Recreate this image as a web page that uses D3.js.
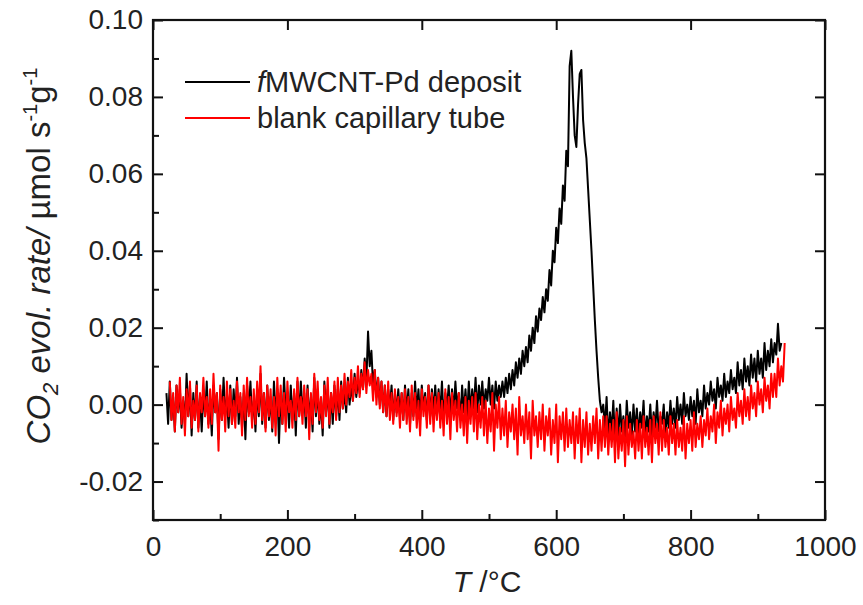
<!DOCTYPE html>
<html>
<head>
<meta charset="utf-8">
<script src="https://cdn.jsdelivr.net/npm/d3@7/dist/d3.min.js"></script>
<style>
  body { margin: 0; background: #fff; }
  svg text { font-family: "Liberation Sans", Arial, sans-serif; fill: #222; }
</style>
</head>
<body>
<div id="chart"></div>
<script>
// Temperature grid of the two traces (°C): first point and spacing
var depositStartT = 20;
var blankStartT = 25;
var stepT = 2.5;

// CO2 evolution rate, in 10^-3 µmol s^-1 g^-1
// fMWCNT-Pd deposit, 20..935 °C
var depositRate = [
  3, -5, 6, -4, 2, -7, 5, -2, 4, -6, 1, -5, 8, -3, 5, -8, 3, -4, 6, -6,
  2, -7, 4, -3, 6, -5, 1, -8, 5, -2, 3, -9, 4, -4, 7, -3, 2, -6, 5, -5,
  4, -3, 7, -5, 2, -6, 3, -9, 5, -2, 6, -4, 1, -7, 4, -3, 8, -5, 3, -6,
  5, -4, 2, -7, 6, -3, 4, -10, 3, -5, 7, -2, 2, -6, 5, -4, 3, -8, 6, -3,
  6, -2, 3, -6, 5, -4, 2, -7, 7, -3, 4, -5, 1, -8, 6, -2, 4, -6, 3, -5,
  5, -3, 4, -4, 6, -1, 3, -2, 7, 0, 5, 1, 8, 2, 6, 3, 9, 4, 12, 6,
  19, 10, 14, 5, 9, 2, 7, 0, 6, -2, 5, -3, 4, -1, 5, -4, 3, -2, 4, -3,
  3, -4, 5, -2, 4, -5, 3, -3, 6, -2, 4, -4, 5, -1, 3, -4, 5, -3, 4, -2,
  5, -3, 4, -2, 6, -4, 3, -1, 5, -3, 4, -2, 6, -1, 3, -4, 5, -2, 4, -3,
  6, -2, 4, -1, 7, -2, 5, 0, 6, -1, 4, 1, 7, 0, 5, -1, 6, 1, 5, 2,
  6, 2, 7, 3, 8, 4, 9, 5, 11, 7, 12, 8, 14, 10, 15, 11, 18, 14, 20, 16,
  23, 19, 25, 22, 28, 24, 30, 27, 35, 31, 40, 37, 46, 42, 51, 47, 57, 53, 66, 62,
  88, 92, 80, 70, 67, 78, 86, 87, 74, 68, 64, 56, 48, 40, 31, 22, 14, 7, 1, -2,
  0, -6, 2, -9, -2, -7, 1, -10, -1, -8, 0, -7, -3, -9, 1, -6, -2, -8, 0, -7,
  -1, -8, -2, -6, 1, -9, -3, -7, 0, -8, -2, -6, 1, -7, -3, -5, 0, -8, -2, -6,
  1, -5, -1, -6, 2, -4, 0, -5, 3, -3, 0, -4, 2, -3, 1, -5, 4, -2, 1, -3,
  5, -1, 3, 0, 6, 1, 4, -1, 7, 2, 5, 1, 8, 2, 6, 3, 9, 4, 7, 3,
  11, 5, 9, 4, 12, 6, 10, 5, 13, 7, 12, 6, 14, 8, 12, 7, 16, 9, 14, 10,
  17, 11, 16, 13, 21, 14, 16
];

// blank capillary tube, 25..940 °C
var blankRate = [
  6, -4, 3, -7, 5, -2, 7, -5, 2, -8, 4, -3, 6, -6, 1, -4, 5, -7, 3, -2,
  7, -3, 2, -6, 4, -5, 8, -2, 3, -12, 5, -4, 2, -7, 6, -3, 4, -5, 1, -6,
  6, -2, 3, -8, 5, -4, 7, -3, 2, -6, 4, -5, 6, -2, 10, -4, 3, -7, 5, -3,
  4, -6, 2, -8, 7, -3, 5, -5, 3, -7, 6, -2, 1, -6, 4, -4, 7, -3, 2, -5,
  5, -3, 4, -9, 3, -5, 8, -2, 6, -4, 2, -6, 5, -3, 7, -5, 3, -2, 6, -4,
  7, -2, 5, -1, 8, 0, 6, 2, 9, 1, 7, 3, 10, 2, 8, 4, 11, 3, 9, 5,
  8, 1, 9, 0, 7, -1, 6, -2, 5, -3, 6, -4, 3, -5, 4, -3, 2, -6, 3, -4,
  4, -5, 2, -7, 5, -4, 3, -6, 1, -8, 4, -3, 2, -6, 5, -5, 3, -7, 2, -4,
  3, -6, 1, -8, 4, -5, 2, -9, 3, -4, 1, -7, 3, -6, 0, -8, 2, -10, 1, -5,
  2, -7, 3, -9, 0, -6, 2, -8, 1, -10, -1, -7, 3, -12, 0, -6, 2, -9, -1, -8,
  1, -11, -2, -7, 0, -9, -1, -13, 2, -8, -3, -10, 0, -9, -2, -14, 1, -8, -3, -11,
  -2, -9, 0, -12, -3, -8, -1, -13, -4, -10, 0, -15, -3, -9, -2, -12, -1, -11, -4, -10,
  -2, -14, -3, -10, -1, -15, -4, -11, -2, -13, -5, -12, -3, -10, -1, -14, -4, -12, -3, -11,
  -3, -13, -5, -11, -4, -15, -2, -14, -6, -12, -4, -16, -3, -13, -5, -11, -7, -14, -4, -12,
  -5, -14, -3, -11, -6, -13, -4, -15, -3, -10, -5, -13, -2, -12, -4, -11, -6, -13, -3, -10,
  -5, -13, -4, -11, -6, -12, -3, -14, -5, -10, -4, -12, -2, -11, -5, -9, -3, -11, -4, -8,
  -1, -9, -3, -7, 0, -10, -2, -6, 1, -8, -1, -5, 0, -7, 2, -4, -1, -6, 3, -3,
  1, -5, 4, -3, 2, -4, 5, -1, 3, -3, 6, 0, 4, -2, 7, 1, 5, -1, 8, 2,
  8, 2, 12, 5, 10, 6, 16
];

// Axis ticks
var xTicks = [0, 200, 400, 600, 800, 1000];
var xMinorTicks = [100, 300, 500, 700, 900];
var yTicks = [-0.02, 0.00, 0.02, 0.04, 0.06, 0.08, 0.10];
var yMinorTicks = [-0.03, -0.01, 0.01, 0.03, 0.05, 0.07, 0.09];

// Legend
var seriesColors = ["#000000", "#ff0000"];
var legendLabels = ["MWCNT-Pd deposit", "blank capillary tube"];

var chart = chart || {};

chart.toPoints = function(rates, startT) {
  return rates.map(function(r, i) {
    return { t: startT + i * stepT, v: r / 1000 };
  });
}

chart.build = function() {
  var margin = { top: 20, right: 38, bottom: 85, left: 153 };
  var width = 863 - margin.left - margin.right;
  var height = 605 - margin.top - margin.bottom;

  var svg = d3.select("#chart").append("svg")
      .attr("width", 863).attr("height", 605)
    .append("g")
      .attr("transform", "translate(" + margin.left + "," + margin.top + ")");

  var x = d3.scaleLinear().domain([0, 1000]).range([0, width]);
  var y = d3.scaleLinear().domain([-0.03, 0.10]).range([height, 0]);

  // traces (drawn first so the frame sits on top)
  var line = d3.line()
      .x(function(d) { return x(d.t); })
      .y(function(d) { return y(d.v); });

  svg.append("path")
      .datum(chart.toPoints(depositRate, depositStartT))
      .attr("fill", "none").attr("stroke", seriesColors[0])
      .attr("stroke-width", 2).attr("stroke-linejoin", "round")
      .attr("d", line);

  svg.append("path")
      .datum(chart.toPoints(blankRate, blankStartT))
      .attr("fill", "none").attr("stroke", seriesColors[1])
      .attr("stroke-width", 2).attr("stroke-linejoin", "round")
      .attr("d", line);

  // axes, ticks pointing inward
  var fmt = function(d) { return d.toFixed(2); };

  var styleAxis = function(g) {
    g.select(".domain").remove();
    g.selectAll(".tick line").attr("stroke", "#111").attr("stroke-width", 2);
    g.selectAll(".tick text").style("font-size", "28px").attr("fill", "#222");
  }

  svg.append("g").attr("transform", "translate(0," + height + ")")
      .call(d3.axisBottom(x).tickValues(xTicks).tickSize(-10).tickPadding(16)
        .tickFormat(function(d) { return String(d); }))
      .call(styleAxis);
  svg.append("g").attr("transform", "translate(0," + height + ")")
      .call(d3.axisBottom(x).tickValues(xMinorTicks).tickSize(-6).tickFormat(""))
      .call(styleAxis);
  svg.append("g")
      .call(d3.axisLeft(y).tickValues(yTicks).tickSize(-10).tickPadding(10).tickFormat(fmt))
      .call(styleAxis);
  svg.append("g")
      .call(d3.axisLeft(y).tickValues(yMinorTicks).tickSize(-6).tickFormat(""))
      .call(styleAxis);
  svg.append("g")
      .call(d3.axisTop(x).tickValues(xTicks).tickSize(-10).tickFormat(""))
      .call(styleAxis);
  svg.append("g").attr("transform", "translate(" + width + ",0)")
      .call(d3.axisRight(y).tickValues(yTicks).tickSize(-10).tickFormat(""))
      .call(styleAxis);

  // frame
  svg.append("rect")
      .attr("width", width).attr("height", height)
      .attr("fill", "none").attr("stroke", "#111").attr("stroke-width", 2.2);

  // x title
  var xt = svg.append("text")
      .attr("x", width / 2 - 2).attr("y", height + 72)
      .attr("text-anchor", "middle").style("font-size", "30px");
  xt.append("tspan").style("font-style", "italic").text("T");
  xt.append("tspan").text(" /°C");

  // y title
  var yt = svg.append("text")
      .attr("transform", "translate(-103," + (height / 2 - 14) + ") rotate(-90)")
      .attr("text-anchor", "middle").style("font-size", "33px");
  yt.append("tspan").style("font-style", "italic").text("CO");
  yt.append("tspan").style("font-style", "italic").style("font-size", "22px")
      .attr("dy", 8).text("2");
  yt.append("tspan").style("font-style", "italic").attr("dy", -8).text(" evol. rate/");
  yt.append("tspan").text(" µmol s");
  yt.append("tspan").style("font-size", "20px").attr("dy", -13).text("-1");
  yt.append("tspan").attr("dy", 13).text("g");
  yt.append("tspan").style("font-size", "20px").attr("dy", -13).text("-1");

  // legend
  var legend = svg.append("g").attr("transform", "translate(32,62)");
  legendLabels.forEach(function(label, i) {
    var row = legend.append("g").attr("transform", "translate(0," + (i * 36) + ")");
    row.append("line").attr("x1", 0).attr("x2", 65)
        .attr("stroke", seriesColors[i]).attr("stroke-width", 2);
    var t = row.append("text").attr("x", 72).attr("y", 10).style("font-size", "29px");
    if (i === 0) t.append("tspan").style("font-style", "italic").text("f");
    t.append("tspan").text(label);
  });
}

chart.build();
</script>
</body>
</html>
